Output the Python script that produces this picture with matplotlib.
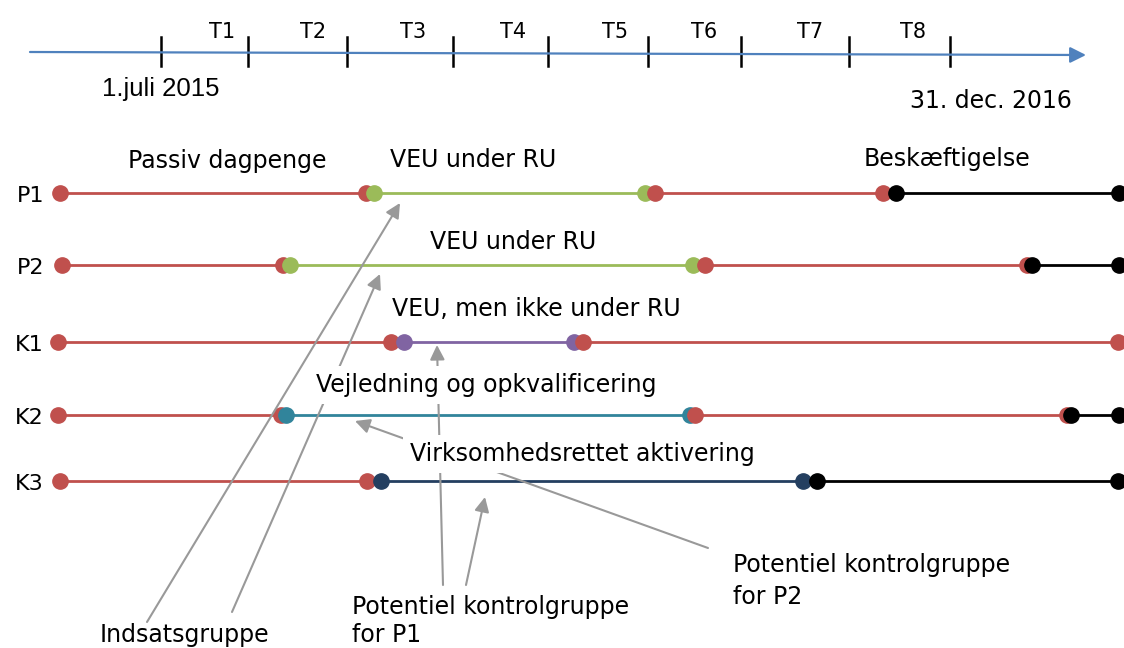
import matplotlib.pyplot as plt

# tidslinje
tick_x = [161, 248, 347, 453, 548, 648, 741, 849, 950]
period_labels = ['T1', 'T2', 'T3', 'T4', 'T5', 'T6', 'T7', 'T8']
period_x = [222, 313, 413, 513, 615, 704, 810, 913]

# forløb pr. person: skiftepunkter (start, slut, start, slut, ...) og tilstande
row_names = ['P1', 'P2', 'K1', 'K2', 'K3']
row_y = [193, 265, 342, 415, 481]
p1_breaks = [60, 366, 374, 645, 655, 883, 896, 1119]
p1_states = ['passiv', 'veu_ru', 'passiv', 'job']
p2_breaks = [62, 283, 290, 693, 705, 1027, 1032, 1119]
p2_states = ['passiv', 'veu_ru', 'passiv', 'job']
k1_breaks = [58, 391, 404, 574, 583, 1118]
k1_states = ['passiv', 'veu', 'passiv']
k2_breaks = [58, 281, 286, 690, 695, 1067, 1071, 1119]
k2_states = ['passiv', 'vejl', 'passiv', 'job']
k3_breaks = [60, 367, 381, 803, 817, 1118]
k3_states = ['passiv', 'virk', 'job']

state_colors = {
    'passiv': '#C0504D',
    'veu_ru': '#9BBB59',
    'veu': '#8064A2',
    'vejl': '#31849B',
    'virk': '#243F60',
    'job': '#000000',
}

fig = plt.figure(figsize=(11.24, 6.48), dpi=100)
ax = fig.add_axes([0, 0, 1, 1])
ax.set_xlim(0, 1124)
ax.set_ylim(648, 0)
ax.axis('off')

# tidslinjen med pil
ax.annotate('', xy=(1086, 55), xytext=(30, 52),
            arrowprops=dict(arrowstyle='-|>', color='#4F81BD', lw=1.6,
                            mutation_scale=24, shrinkA=0, shrinkB=0))
for x in tick_x:
    ax.plot([x, x], [37, 66], color='black', lw=1.8)
for lab, x in zip(period_labels, period_x):
    ax.text(x, 38, lab, ha='center', va='baseline', fontsize=15)
ax.text(161, 96, '1.juli 2015', ha='center', va='baseline', fontsize=18.5,
        family='Liberation Sans')
ax.text(910, 108, '31. dec. 2016', ha='left', va='baseline', fontsize=17)

# forløbene
all_breaks = [p1_breaks, p2_breaks, k1_breaks, k2_breaks, k3_breaks]
all_states = [p1_states, p2_states, k1_states, k2_states, k3_states]
for name, y, brk, sts in zip(row_names, row_y, all_breaks, all_states):
    ax.text(44, y + 9, name, ha='right', va='baseline', fontsize=16)
    for i, s in enumerate(sts):
        ax.plot([brk[2 * i], brk[2 * i + 1]], [y, y], '-o', color=state_colors[s],
                lw=2, ms=11, zorder=2)

# tekster ved forløbene
lab_kw = dict(fontsize=17, va='baseline', ha='left')
ax.text(128, 168, 'Passiv dagpenge', **lab_kw)
ax.text(390, 167, 'VEU under RU', **lab_kw)
ax.text(864, 166, 'Beskæftigelse', **lab_kw)
ax.text(430, 249, 'VEU under RU', **lab_kw)
ax.text(392, 316, 'VEU, men ikke under RU', **lab_kw)
box = dict(boxstyle='square,pad=0.3', fc='white', ec='none')
ax.text(316, 392, 'Vejledning og opkvalificering', bbox=box, zorder=5, **lab_kw)
ax.text(410, 461, 'Virksomhedsrettet aktivering', bbox=box, zorder=5, **lab_kw)

ax.text(733, 572, 'Potentiel kontrolgruppe', **lab_kw)
ax.text(733, 604, 'for P2', **lab_kw)
ax.text(352, 614, 'Potentiel kontrolgruppe', **lab_kw)
ax.text(352, 642, 'for P1', **lab_kw)
ax.text(100, 642, 'Indsatsgruppe', **lab_kw)

# pile fra forklaringerne
arrows = [
    ((147, 622), (400, 203)),
    ((232, 612), (380, 274)),
    ((443, 585), (437, 345)),
    ((466, 585), (485, 497)),
    ((708, 548), (355, 421)),
]
for start, end in arrows:
    ax.annotate('', xy=end, xytext=start, zorder=3,
                arrowprops=dict(arrowstyle='-|>', color='#999999', lw=1.5,
                                mutation_scale=22, shrinkA=0, shrinkB=0))

fig.savefig('out.png', dpi=100)
